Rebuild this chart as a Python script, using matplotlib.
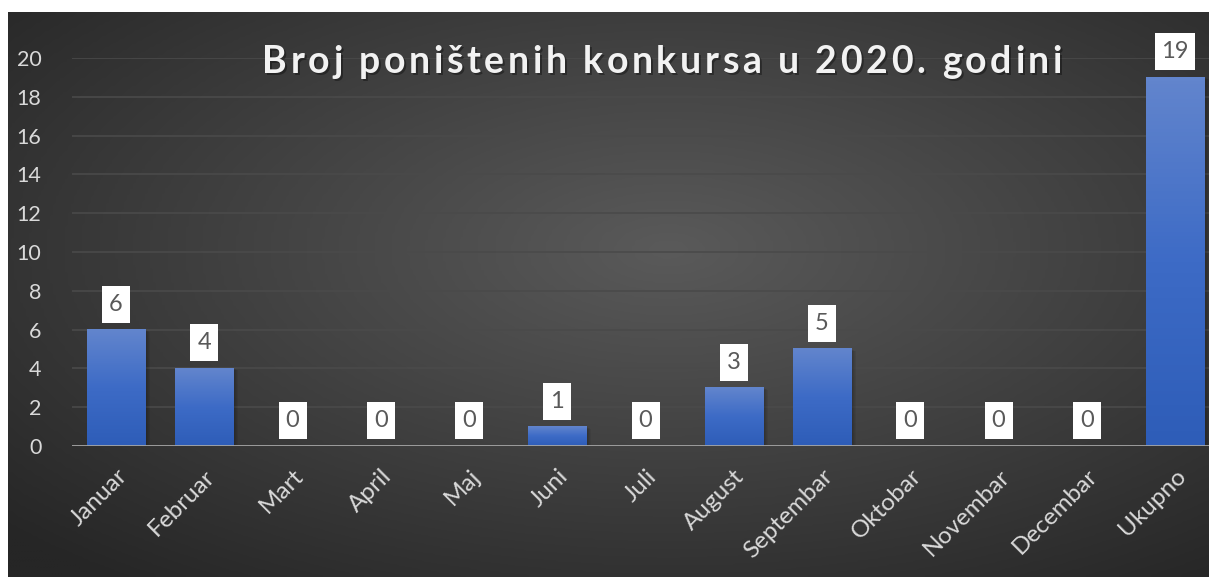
import numpy as np
import matplotlib.pyplot as plt
from matplotlib.colors import LinearSegmentedColormap
from matplotlib.patches import Rectangle

months = ['Januar', 'Februar', 'Mart', 'April', 'Maj', 'Juni', 'Juli',
          'August', 'Septembar', 'Oktobar', 'Novembar', 'Decembar', 'Ukupno']
counts = [6, 4, 0, 0, 0, 1, 0, 3, 5, 0, 0, 0, 19]
yticks = [0, 2, 4, 6, 8, 10, 12, 14, 16, 18, 20]
title = 'Broj poništenih konkursa u 2020. godini'

plt.rcParams['font.family'] = ['Lato', 'DejaVu Sans']

W, H = 1209, 577
fig = plt.figure(figsize=(W / 100, H / 100), dpi=100)
fig.patch.set_facecolor('white')

# dark radial background, starts a bit in from top/left
bg = fig.add_axes([8 / W, 0, 1 - 8 / W, 1 - 12 / H])
bg.set_axis_off()
gx, gy = np.meshgrid(np.linspace(0, 1, 400), np.linspace(0, 1, 200))
r = np.sqrt(((gx - 0.55) / 0.75) ** 2 + ((gy - 0.42) / 0.75) ** 2)
bg_cmap = LinearSegmentedColormap.from_list('bg', ['#5a5a5a', '#262626'])
bg.imshow(np.clip(r, 0, 1), cmap=bg_cmap, aspect='auto', extent=[0, 1, 0, 1],
          vmin=0, vmax=1, interpolation='bilinear')
bg.set_xlim(0, 1)
bg.set_ylim(0, 1)

# plot area: y=0 at 446px, y=20 at 58px, x from 72px to right edge
left, right = 72, W
bottom, top = 446, 58
ax = fig.add_axes([left / W, 1 - bottom / H, (right - left) / W, (bottom - top) / H])
ax.patch.set_alpha(0)
step = 88.25
ax.set_xlim(-0.5, (right - 116) / step)
ax.set_ylim(0, 20)
px_x = 1 / step                 # one pixel in x data units
px_y = 20 / (bottom - top)      # one pixel in y data units

for s in ax.spines.values():
    s.set_visible(False)
ax.axhline(0, color='#a6a6a6', lw=2, zorder=4)
for v in yticks[1:]:
    ax.axhline(v, color='#4a4a4a', lw=1.2, zorder=1)

bar_cmap = LinearSegmentedColormap.from_list('bar', ['#2e5db8', '#3d6bc6', '#6285cd'])
grad = np.linspace(0, 1, 100).reshape(-1, 1)
bw = 0.66
x = np.arange(len(months))
for xi, c in zip(x, counts):
    if c > 0:
        # soft shadow
        for k in range(1, 5):
            ax.add_patch(Rectangle((xi - bw / 2 + px_x, -k * px_y),
                                   bw + k * px_x, c + k * px_y * 0.5,
                                   fc='black', ec='none', alpha=0.06, zorder=2))
        ax.imshow(grad, cmap=bar_cmap, aspect='auto', origin='lower',
                  extent=[xi - bw / 2, xi + bw / 2, 0, c], zorder=3)
    # white value label box
    bx_w = (16 + 12 * len(str(c))) * px_x
    bx_h = 37 * px_y
    y0 = c + 7 * px_y
    ax.add_patch(Rectangle((xi - bx_w / 2, y0), bx_w, bx_h, fc='white',
                           ec='none', zorder=5, clip_on=False))
    ax.text(xi, y0 + bx_h / 2, str(c), ha='center', va='center',
            fontsize=17, color='#595959', zorder=6, clip_on=False)

ax.set_yticks(yticks)
ax.set_yticklabels([str(v) for v in yticks], fontsize=15.5, color='#d9d9d9')
ax.set_xticks(x)
ax.set_xticklabels(months, fontsize=17.5, color='#d9d9d9', rotation=45,
                   ha='right', rotation_mode='anchor')
ax.tick_params(length=0, pad=14, axis='x')
ax.tick_params(length=0, pad=22, axis='y')

# title, drawn letter by letter to get the wide tracking
renderer = fig.canvas.get_renderer()
tprops = dict(fontsize=27, fontweight='bold')


def text_w(s):
    t = fig.text(0, 0, s, **tprops)
    w = t.get_window_extent(renderer).width
    t.remove()
    return w


widths = []
for ch in title:
    if ch == ' ':
        widths.append(text_w('x x') - text_w('xx'))
    else:
        widths.append(text_w(ch))
tracking = 4.0
total = sum(widths) + tracking * (len(title) - 1)
x_left, x_right = 262, 1062
tracking += (x_right - x_left - total) / (len(title) - 1)
cx = x_left
ty = 1 - 62 / H
for ch, w in zip(title, widths):
    if ch != ' ':
        fig.text((cx + 2) / W, ty - 2 / H, ch, ha='left', va='center',
                 color='black', alpha=0.35, **tprops)
        fig.text(cx / W, ty, ch, ha='left', va='center', color='#f2f2f2',
                 **tprops)
    cx += w + tracking

fig.savefig('out.png', dpi=100)
